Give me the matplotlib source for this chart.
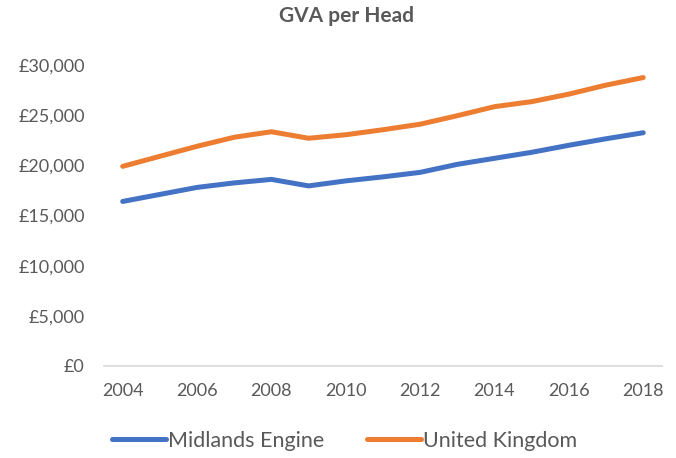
import matplotlib
matplotlib.use("Agg")
import matplotlib.pyplot as plt
from matplotlib.ticker import FuncFormatter

years = [2004, 2005, 2006, 2007, 2008, 2009, 2010, 2011, 2012, 2013, 2014, 2015, 2016, 2017, 2018]
midlands = [16400, 17100, 17800, 18250, 18600, 17950, 18450, 18850, 19300, 20100, 20700, 21300, 22000, 22650, 23250]
uk = [19900, 20900, 21900, 22800, 23350, 22700, 23050, 23550, 24100, 24950, 25850, 26350, 27100, 28000, 28750]
series_names = ["Midlands Engine", "United Kingdom"]
xtick_years = [2004, 2006, 2008, 2010, 2012, 2014, 2016, 2018]
yticks = [0, 5000, 10000, 15000, 20000, 25000, 30000]

plt.rcParams['font.family'] = ['Lato', 'DejaVu Sans']
text_color = "#595959"

fig = plt.figure(figsize=(6.76, 4.58), dpi=100)
ax = fig.add_axes([0.154, 0.201, 0.825, 0.657])

ax.plot(years, midlands, color="#4472C4", lw=3.6, solid_capstyle="round", label=series_names[0])
ax.plot(years, uk, color="#ED7D31", lw=3.6, solid_capstyle="round", label=series_names[1])

ax.set_xlim(2003.5, 2018.5)
ax.set_ylim(0, 30000)
ax.set_yticks(yticks)
ax.set_xticks(xtick_years)
ax.yaxis.set_major_formatter(FuncFormatter(lambda v, p: "£{:,.0f}".format(v)))
ax.tick_params(axis="both", length=0, labelsize=13, colors=text_color)
ax.tick_params(axis="y", pad=14)
ax.tick_params(axis="x", pad=12)

for s in ["top", "right", "left"]:
    ax.spines[s].set_visible(False)
ax.spines["bottom"].set_color("#D9D9D9")
ax.spines["bottom"].set_linewidth(1.2)

fig.text(0.512, 0.965, "GVA per Head", ha="center", va="center", fontsize=15,
         fontweight="bold", color=text_color)

leg = fig.legend(loc="center", bbox_to_anchor=(0.51, 0.038), ncol=2, frameon=False,
                 fontsize=15.5, handlelength=2.5, handletextpad=0.1, columnspacing=2.0)
for t in leg.get_texts():
    t.set_color(text_color)

fig.savefig("out.png", dpi=100)
